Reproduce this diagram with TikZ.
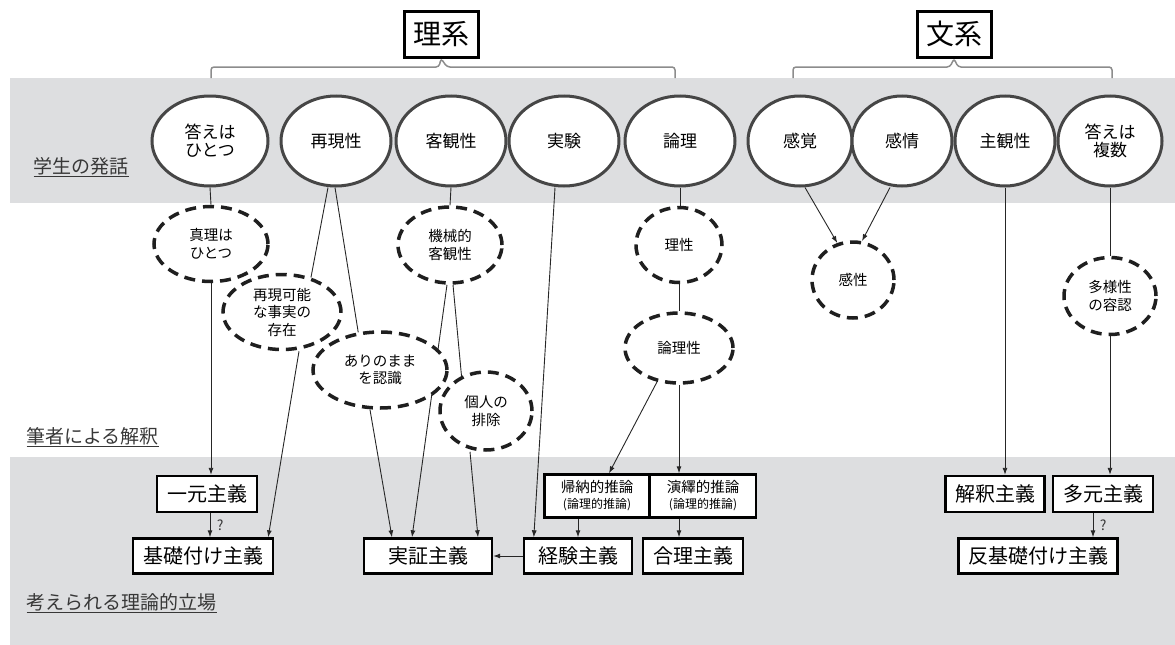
\documentclass[tikz,border=0pt]{standalone}
\usepackage{fontspec}
\setmainfont{Noto Sans CJK JP}
\usetikzlibrary{shapes,shapes.geometric,arrows.meta,backgrounds}
\definecolor{bandgray}{RGB}{221,222,224}
\definecolor{ringgray}{RGB}{70,70,70}
\definecolor{bracegray}{RGB}{140,140,140}
\definecolor{labelgray}{RGB}{55,55,55}
\tikzset{
  jpnode/.style = {align=center, inner sep=0pt, text centered, font=\fontsize{17}{18}\selectfont},
  hatsu_e/.style = {jpnode, ellipse, draw=ringgray, line width=3pt, fill=white, minimum width=110pt, minimum height=90pt},
  bun_e/.style = {hatsu_e, minimum width=104pt},
  kai_e/.style = {jpnode, ellipse, draw=black!88, line width=3.5pt, dash pattern=on 11pt off 7pt, fill=white, font=\fontsize{14.5}{17.5}\selectfont},
  tachi_b/.style = {jpnode, rectangle, draw=black, line width=2.4pt, fill=white, minimum height=36pt, font=\fontsize{20}{22}\selectfont},
  suiron_b/.style = {tachi_b, minimum height=43pt, minimum width=105pt, font=\fontsize{14.5}{16}\selectfont},
  kei_b/.style = {jpnode, rectangle, draw=black, line width=3pt, fill=white, minimum width=74pt, minimum height=46pt, font=\fontsize{28}{30}\selectfont},
  sec_l/.style = {anchor=west, text=labelgray, font=\fontsize{19}{20}\selectfont},
  conn/.style = {line width=0.9pt, draw=black!85},
  arr/.style = {conn, -{Latex[length=7pt,width=5pt]}},
  q_l/.style = {right, xshift=3pt, text=labelgray, font=\fontsize{14}{15}\selectfont}
}

\begin{document}
\begin{tikzpicture}[x=1pt,y=-1pt]
	\useasboundingbox (0,0) rectangle (1175,645);

	% titles
	\node [kei_b] (rikei) at (441,34) {理系};
	\node [kei_b] (bunkei) at (954,34) {文系};
	\draw [bracegray, line width=1.5pt, rounded corners=3pt]
		(211,78) -- (211,67) -- (439,67) -- (rikei.south) -- (447,67) -- (675,67) -- (675,78);
	\draw [bracegray, line width=1.5pt, rounded corners=3pt]
		(793,78) -- (793,67) -- (950,67) -- (bunkei.south) -- (958,67) -- (1112,67) -- (1112,78);

	% section labels
	\node [sec_l] (l_hatsu) at (30,167) {\underline{学生の発話}};
	\node [sec_l] (l_kai) at (23,437) {\underline{筆者による解釈}};
	\node [sec_l] (l_tachi) at (23,603) {\underline{考えられる理論的立場}};

	% students
	\node [hatsu_e, minimum width=116pt] (kotae1) at (210,141) {答えは\\ひとつ};
	\node [hatsu_e] (saigen) at (336,141) {再現性};
	\node [hatsu_e] (kyakkan) at (451,141) {客観性};
	\node [hatsu_e] (jikken) at (564,141) {実験};
	\node [hatsu_e] (ronri) at (680,141) {論理};
	\node [bun_e] (kankaku) at (800,141) {感覚};
	\node [bun_e, minimum width=100pt] (kanjou) at (902,141) {感情};
	\node [bun_e, minimum width=100pt] (shukan) at (1005,141) {主観性};
	\node [bun_e] (kotae2) at (1110,141) {答えは\\複数};

	% interpretation
	\node [kai_e, minimum width=114pt, minimum height=75pt] (shinri) at (211,244) {真理は\\ひとつ};
	\node [kai_e, minimum width=118pt, minimum height=75pt] (kanou) at (282,312) {再現可能\\な事実の\\存在};
	\node [kai_e, minimum width=134pt, minimum height=76pt] (arinomama) at (380,370) {ありのまま\\を認識};
	\node [kai_e, minimum width=104pt, minimum height=76pt] (kikai) at (450,245) {機械的\\客観性};
	\node [kai_e, minimum width=92pt, minimum height=78pt] (kojin) at (486,411) {個人の\\排除};
	\node [kai_e, minimum width=86pt, minimum height=75pt] (risei) at (679,245) {理性};
	\node [kai_e, minimum width=108pt, minimum height=70pt] (ronrisei) at (679,348) {論理性};
	\node [kai_e, minimum width=82pt, minimum height=76pt] (kansei) at (853,280) {感性};
	\node [kai_e, minimum width=92pt, minimum height=77pt] (tayou) at (1110,296) {多様性\\の容認};

	% positions
	\node [tachi_b, minimum width=100pt] (ichigen) at (207,494) {一元主義};
	\node [tachi_b, minimum width=140pt, minimum height=35pt] (kiso) at (203,556) {基礎付け主義};
	\node [tachi_b, minimum width=128pt, minimum height=35pt] (jissho) at (428,556) {実証主義};
	\node [suiron_b] (kinou) at (597,496) {帰納的推論\\{\fontsize{12}{13}\selectfont (論理的推論)}};
	\node [suiron_b, minimum width=106pt] (eneki) at (703,496) {演繹的推論\\{\fontsize{12}{13}\selectfont (論理的推論)}};
	\node [tachi_b, minimum width=108pt, minimum height=35pt] (keiken) at (578,556) {経験主義};
	\node [tachi_b, minimum width=100pt, minimum height=35pt] (gouri) at (693,556) {合理主義};
	\node [tachi_b, minimum width=99pt] (kaishaku) at (995,494) {解釈主義};
	\node [tachi_b, minimum width=100pt] (tagen) at (1103,494) {多元主義};
	\node [tachi_b, minimum width=159pt, minimum height=35pt] (hankiso) at (1038,556) {反基礎付け主義};

	\begin{scope}[on background layer]
		\fill [bandgray] (10,78) rectangle (1175,203);
		\fill [bandgray] (10,457) rectangle (1175,645);

		\draw [conn] (kotae1.south) -- (shinri.north);
		\draw [arr] (shinri.south) -- (shinri.south |- ichigen.north);
		\draw [arr] ([xshift=3pt]ichigen.south) -- ([xshift=3pt]ichigen.south |- kiso.north) node [q_l, midway] {?};

		\draw [conn] ([xshift=-8pt]saigen.south) -- (kanou.50);
		\draw [conn] ([xshift=-1pt]saigen.south) -- (arinomama.120);
		\draw [arr] ([xshift=17pt]kanou.south) -- ([xshift=-6pt]kiso.north east);

		\draw [conn] (kyakkan.south) -- (kikai.north);
		\draw [arr] ([xshift=-3pt]kikai.south) -- ([xshift=-16pt]jissho.north);
		\draw [conn] ([xshift=3pt]kikai.south) -- (kojin.125);
		\draw [arr] ([xshift=-10pt]arinomama.south) -- ([xshift=-36pt]jissho.north);
		\draw [arr] ([xshift=-16pt]kojin.south) -- ([xshift=50pt]jissho.north);

		\draw [arr] ([xshift=-9pt]jikken.south) -- ([xshift=11pt]keiken.north west);
		\draw [arr] (keiken.west) -- (jissho.east);

		\draw [conn] (ronri.south) -- (ronri.south |- risei.north);
		\draw [conn] (risei.south) -- (ronrisei.north);
		\draw [arr] (ronrisei.237) -- ([xshift=12pt]kinou.north);
		\draw [arr] (ronrisei.south) -- (ronrisei.south |- eneki.north);
		\draw [arr] (keiken.north |- kinou.south) -- (keiken.north);
		\draw [arr] (ronrisei.south |- eneki.south) -- (ronrisei.south |- gouri.north);

		\draw [arr] ([xshift=5pt]kankaku.south) -- (kansei.113);
		\draw [arr] ([xshift=-12pt]kanjou.south) -- (kansei.77);

		\draw [arr] (shukan.south) -- (shukan.south |- kaishaku.north);
		\draw [conn] (kotae2.south) -- (tayou.north);
		\draw [arr] (tayou.south) -- (tayou.south |- tagen.north);
		\draw [arr] ([xshift=-10pt]tagen.south) -- ([xshift=-10pt]tagen.south |- hankiso.north) node [q_l, midway] {?};
	\end{scope}
\end{tikzpicture}
\end{document}
